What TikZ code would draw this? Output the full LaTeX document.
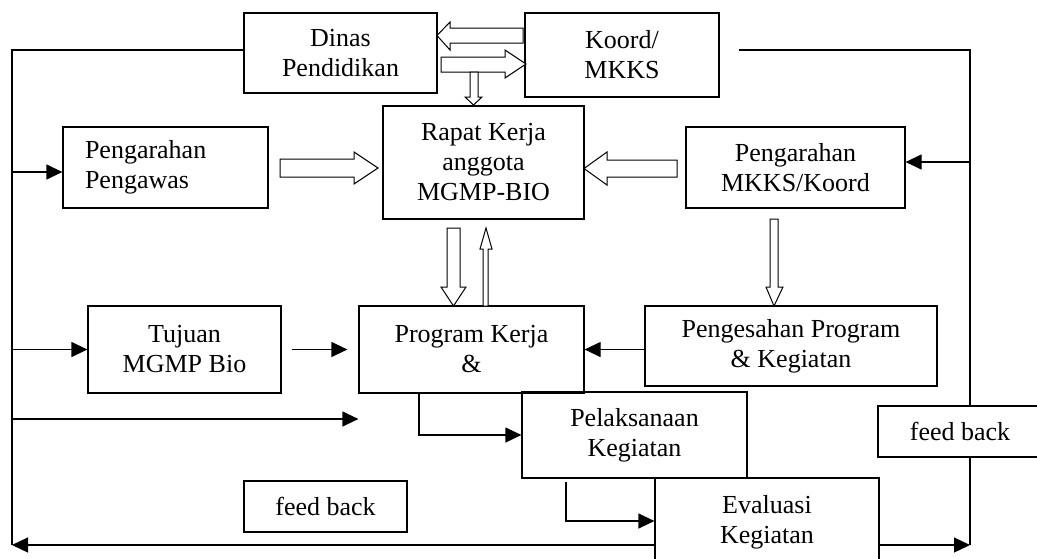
\documentclass[tikz,border=0pt]{standalone}
\usepackage{fontspec}
\setmainfont{Liberation Serif}
\usetikzlibrary{arrows.meta,calc}
\newcommand\diagfont{\fontsize{26}{30}\selectfont}
\begin{document}
\begin{tikzpicture}[x=1pt,y=-1pt,
  box/.style={draw,line width=1.2pt,inner sep=0pt,align=center,font=\diagfont},
  blk/.style={draw,fill=white,line width=1pt,line join=miter},
  ln/.style={line width=1.2pt},
  arr/.style={line width=1.2pt,-{Triangle[length=16pt,width=15pt]}}]
\useasboundingbox (0,0) rectangle (1037,558);
\clip (0,0) rectangle (1037,558);
% boxes
\node[box,minimum width=193,minimum height=80] (dinas) at (340.5,53) {Dinas\\Pendidikan};
\node[box,minimum width=194,minimum height=84] (koord) at (622,55) {Koord/\\MKKS};
\node[box,minimum width=201,minimum height=113] (rapat) at (483.5,162.5) {Rapat Kerja\\anggota\\MGMP-BIO};
\node[box,minimum width=205,minimum height=81,text width=161,inner xsep=22,align=left] (pengawas) at (165.5,167.5) {Pengarahan\\Pengawas};
\node[box,minimum width=219,minimum height=81] (mkks) at (795.5,167.5) {Pengarahan\\MKKS/Koord};
\node[box,minimum width=193,minimum height=87] (tujuan) at (184.5,349.5) {Tujuan\\MGMP Bio};
\node[box,minimum width=225,minimum height=87] (program) at (471.5,349.5) {Program Kerja\\\&};
\node[box,minimum width=292,minimum height=80] (pengesahan) at (791,346) {Pengesahan Program\\\& Kegiatan};
\node[box,minimum width=225,minimum height=86] (pelaksanaan) at (634.5,435) {Pelaksanaan\\Kegiatan};
\node[box,minimum width=224,minimum height=88] (evaluasi) at (767,522) {Evaluasi\\Kegiatan};
\node[box,minimum width=163,minimum height=51] (fb1) at (325.5,506.5) {feed back};
\node[box,minimum width=164,minimum height=51] (fb2) at (960,431.5) {feed back};
% block arrows
\draw[blk] (523,28) -- (450,28) -- (450,22) -- (437,35.5) -- (450,50) -- (450,43) -- (523,43) -- cycle;
\draw[blk] (441,57) -- (505,57) -- (505,50) -- (526,64) -- (505,78) -- (505,72) -- (441,72) -- cycle;
\draw[blk] (470,72) -- (470,97) -- (465,97) -- (473.5,105) -- (482,97) -- (478,97) -- (478,72) -- cycle;
\draw[blk] (280,159) -- (354,159) -- (354,152) -- (378,168) -- (354,184) -- (354,177) -- (280,177) -- cycle;
\draw[blk] (677,160) -- (607,160) -- (607,152) -- (584,168.5) -- (607,185) -- (607,177) -- (677,177) -- cycle;
\draw[blk] (447,228) -- (447,287) -- (441,287) -- (453.5,306) -- (466,287) -- (460,287) -- (460,228) -- cycle;
\draw[blk] (483,306) -- (483,249) -- (480,249) -- (486,228) -- (492,249) -- (488,249) -- (488,306) -- cycle;
\draw[blk] (770,219) -- (770,287) -- (766,287) -- (774,306) -- (783,287) -- (778,287) -- (778,219) -- cycle;
% helper coordinates
\coordinate (xl) at (12,0);
\coordinate (xr) at (970,0);
\coordinate (bl) at (12,545);
\coordinate (xp) at (419,0);
\coordinate (xq) at (566,0);
\coordinate (pw) at ([yshift=-4.5pt]pengawas.west);
\coordinate (pg) at ([yshift=-69.5pt]program.west);
\coordinate (mk) at ([yshift=5.5pt]mkks.east);
\coordinate (pq) at ([yshift=-3pt]pelaksanaan.south);
\coordinate (eq) at ([yshift=1pt]evaluasi.west);
% left feedback loop
\draw[ln] ([yshift=3pt]dinas.west) -| (bl);
\draw[arr] (evaluasi.west |- bl) -- (bl);
\draw[arr] (pw -| xl) -- (pw);
\draw[arr] (tujuan.west -| xl) -- (tujuan.west);
\draw[arr] (pg -| xl) -- (pg);
% right feedback loop
\draw[ln] ([xshift=19pt,yshift=5pt]koord.east) -| (fb2.north -| xr);
\draw[ln] (fb2.south -| xr) -- (xr |- bl);
\draw[arr] (evaluasi.east |- bl) -- (xr |- bl);
\draw[arr] (mk -| xr) -- (mk);
% main flow
\draw[arr,shorten <=10pt,shorten >=11pt] (tujuan.east) -- (program.west);
\draw[arr] (pengesahan.west |- program.east) -- (program.east);
\draw[arr] (program.south -| xp) |- (pelaksanaan.west);
\draw[arr] (pq -| xq) |- (eq);
\end{tikzpicture}
\end{document}
